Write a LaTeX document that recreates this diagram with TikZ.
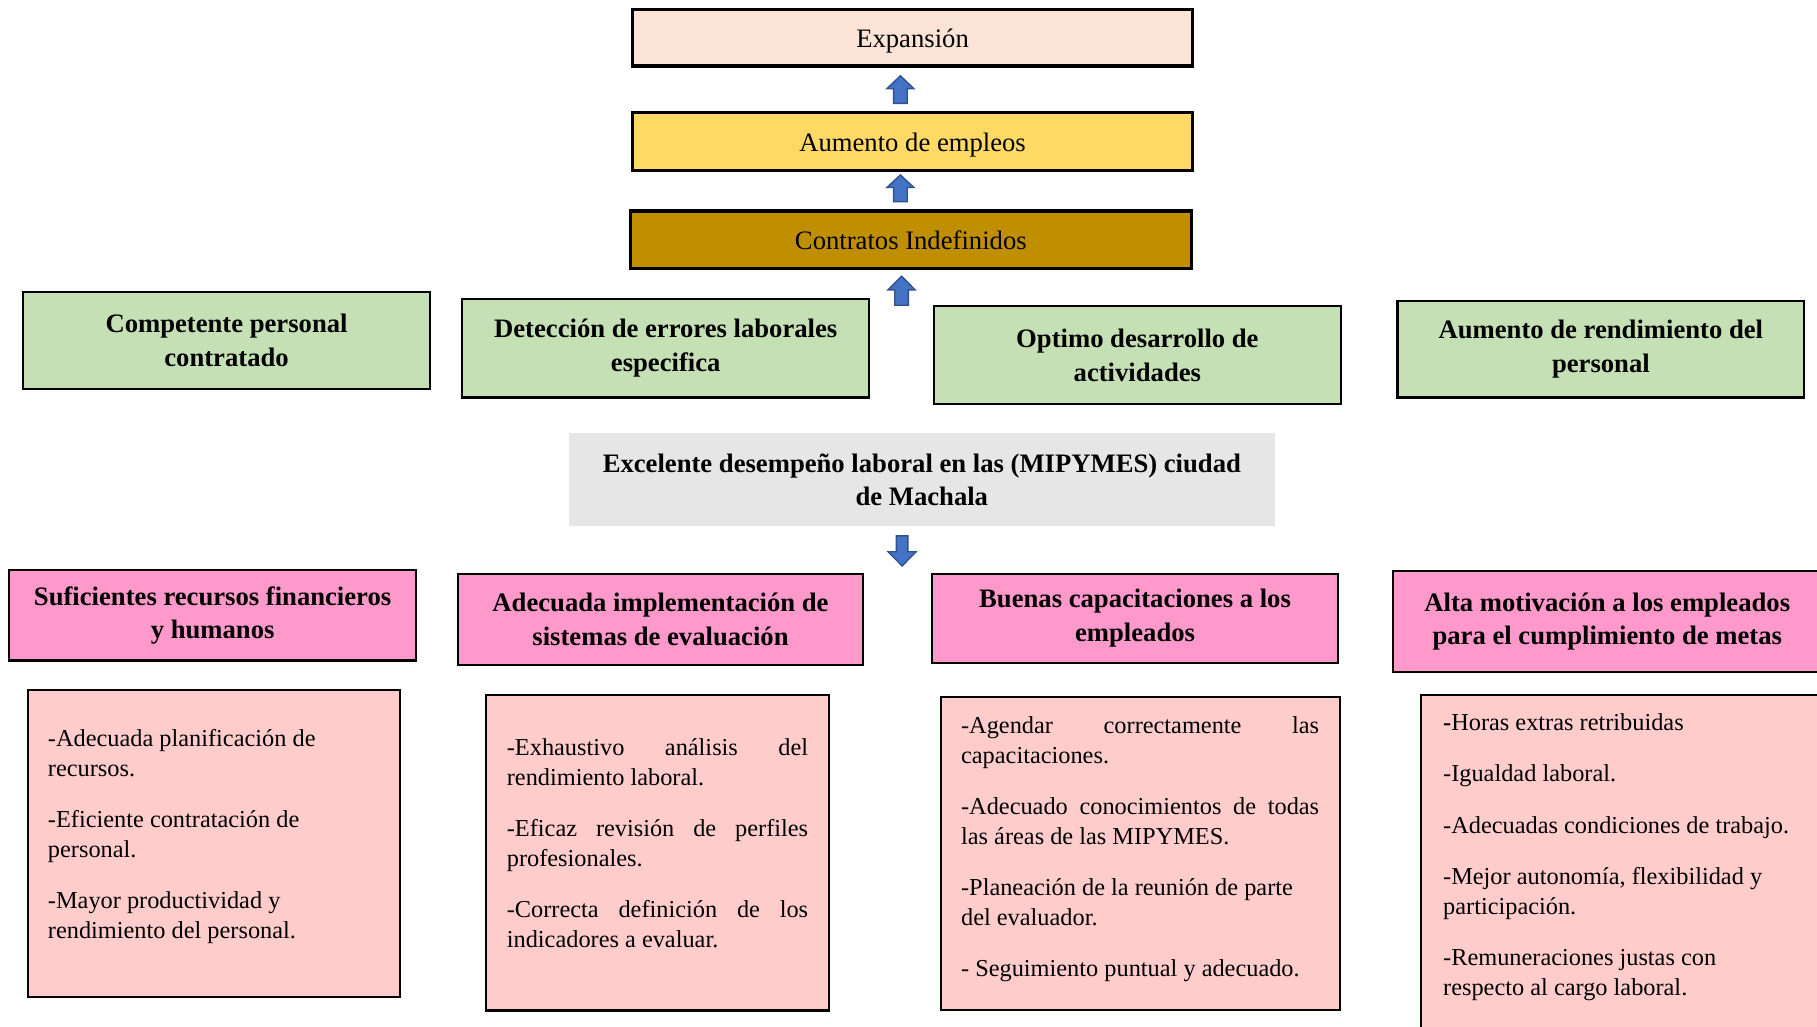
\documentclass[tikz,border=0pt]{standalone}
\usepackage{fontspec}
\setmainfont{Liberation Serif}
\usetikzlibrary{calc}
\definecolor{cexp}{HTML}{FBE4D5}
\definecolor{caum}{HTML}{FFD966}
\definecolor{ccon}{HTML}{BF8F00}
\definecolor{cgreen}{HTML}{C5E0B4}
\definecolor{cgray}{HTML}{E7E6E6}
\definecolor{cpink}{HTML}{FF99CC}
\definecolor{clight}{HTML}{FFCCCC}
\definecolor{cblue}{HTML}{4472C4}
\definecolor{cblueline}{HTML}{2F528F}
\newcommand\pgap{9.5pt}
\newcommand\blockarrow[4]{% start, end, shaft half width, head half width
  \draw[barrow] ($(#1)+(-#3,0)$) -- ($(#1)!0.53!(#2)+(-#3,0)$) -- ($(#1)!0.53!(#2)+(-#4,0)$)
    -- (#2) -- ($(#1)!0.53!(#2)+(#4,0)$) -- ($(#1)!0.53!(#2)+(#3,0)$) -- ($(#1)+(#3,0)$) -- cycle;}
\tikzset{
  topbox/.style={draw=black, line width=1.4pt, inner sep=0pt, align=center,
    font=\fontsize{11.5}{14}\selectfont},
  lowtext/.style={text height=9.6pt, text depth=0.8pt},
  headbox/.style={draw=black, line width=0.9pt, inner sep=0pt, align=center,
    font=\fontsize{11.5}{14.5}\selectfont\bfseries},
  greenbox/.style={headbox, fill=cgreen},
  pinkbox/.style={headbox, fill=cpink},
  graybox/.style={inner sep=0pt, align=center, fill=cgray,
    font=\fontsize{11.5}{14.5}\selectfont\bfseries},
  listbox/.style={draw=black, line width=0.9pt, fill=clight, inner sep=0pt},
  bodytext/.style={inner sep=0pt, align=left, anchor=north west,
    font=\fontsize{10.5}{12.75}\selectfont},
  barrow/.style={fill=cblue, draw=cblueline, line width=0.6pt, line join=miter}
}
\begin{document}
\begin{tikzpicture}[x=0.5pt, y=-0.5pt]
\path[use as bounding box, clip] (0,0) rectangle (1568,886);
\fill[white] (0,0) rectangle (1568,886);

% top chain
\node[topbox, lowtext, fill=cexp, minimum width=241.5pt, minimum height=24.5pt] (exp) at (787.5,32.5) {Expansión};
\node[topbox, lowtext, fill=caum, minimum width=241.5pt, minimum height=25pt] (aum) at (787.5,122) {Aumento de empleos};
\node[topbox, fill=ccon, minimum width=242pt, minimum height=25pt] (con) at (786,207) {Contratos Indefinidos};

% effects
\node[greenbox, minimum width=175.5pt, minimum height=42pt] (g1) at (195.5,294) {Competente personal\\contratado};
\node[greenbox, minimum width=175.5pt, minimum height=42.5pt] (g2) at (574.5,300.5) {Detección de errores laborales\\especifica};
\node[greenbox, minimum width=175.5pt, minimum height=42.5pt] (g3) at (981.5,306.5) {Optimo desarrollo de\\actividades};
\node[greenbox, minimum width=175.5pt, minimum height=41.5pt] (g4) at (1381.5,301.5) {Aumento de rendimiento del\\personal};

% central
\node[graybox, minimum width=304.5pt, minimum height=40pt] (gray) at (795.5,414) {Excelente desempeño laboral en las (MIPYMES) ciudad\\de Machala};

% causes
\node[pinkbox, minimum width=175.5pt, minimum height=39pt] (p1) at (183.5,531) {Suficientes recursos financieros\\y humanos};
\node[pinkbox, minimum width=175pt, minimum height=39.5pt] (p2) at (570,534.5) {Adecuada implementación de\\sistemas de evaluación};
\node[pinkbox, minimum width=175.5pt, minimum height=38.5pt] (p3) at (979.5,533.5) {Buenas capacitaciones a los\\empleados};
\node[pinkbox, minimum width=185pt, minimum height=43.5pt] (p4) at (1387,536.5) {Alta motivación a los empleados\\para el cumplimiento de metas};

% lists
\node[listbox, minimum width=160.5pt, minimum height=132.5pt] (b1) at (184.5,728) {};
\node[listbox, minimum width=148pt, minimum height=136pt] (b2) at (567,736) {};
\node[listbox, minimum width=172pt, minimum height=135pt] (b3) at (984,736.5) {};
\node[listbox, minimum width=182pt, minimum height=150pt] (b4) at (1408,750) {};

\node[bodytext] (t1) at (41,629) {-Adecuada planificación de\\recursos.\\[\pgap]-Eficiente contratación de\\personal.\\[\pgap]-Mayor productividad y\\rendimiento del personal.};
\node[bodytext] (t2) at (437,637) {\makebox[130pt][s]{-Exhaustivo análisis del}\\rendimiento laboral.\\[\pgap]\makebox[130pt][s]{-Eficaz revisión de perfiles}\\profesionales.\\[\pgap]\makebox[130pt][s]{-Correcta definición de los}\\indicadores a evaluar.};
\node[bodytext] (t3) at (829,618) {\makebox[154.5pt][s]{-Agendar correctamente las}\\capacitaciones.\\[\pgap]\makebox[154.5pt][s]{-Adecuado conocimientos de todas}\\las áreas de las MIPYMES.\\[\pgap]-Planeación de la reunión de parte\\del evaluador.\\[\pgap]- Seguimiento puntual y adecuado.};
\node[bodytext] (t4) at (1245,615) {\textbf{-}Horas extras retribuidas\\[\pgap]-Igualdad laboral.\\[\pgap]-Adecuadas condiciones de trabajo.\\[\pgap]-Mejor autonomía, flexibilidad y\\participación.\\[\pgap]-Remuneraciones justas con\\respecto al cargo laboral.};

% block arrows
\coordinate (u1s) at ($(aum.north)+(-10.5,-6.4)$);
\coordinate (u1e) at ($(exp.south)+(-10.5,7)$);
\coordinate (u2s) at ($(con.north)+(-9,-6.5)$);
\coordinate (u2e) at ($(aum.south)+(-10.5,2.6)$);
\coordinate (u3s) at ($(con.south)+(-8,30)$);
\coordinate (u3e) at ($(con.south)+(-8,5)$);
\coordinate (d1s) at ($(gray.south)+(-17,8)$);
\coordinate (d1e) at ($(gray.south)+(-17,34)$);
\blockarrow{u1s}{u1e}{5.9}{11.7}
\blockarrow{u2s}{u2e}{5.9}{11.7}
\blockarrow{u3s}{u3e}{5.9}{11.7}
\blockarrow{d1s}{d1e}{5}{12}
\end{tikzpicture}
\end{document}
